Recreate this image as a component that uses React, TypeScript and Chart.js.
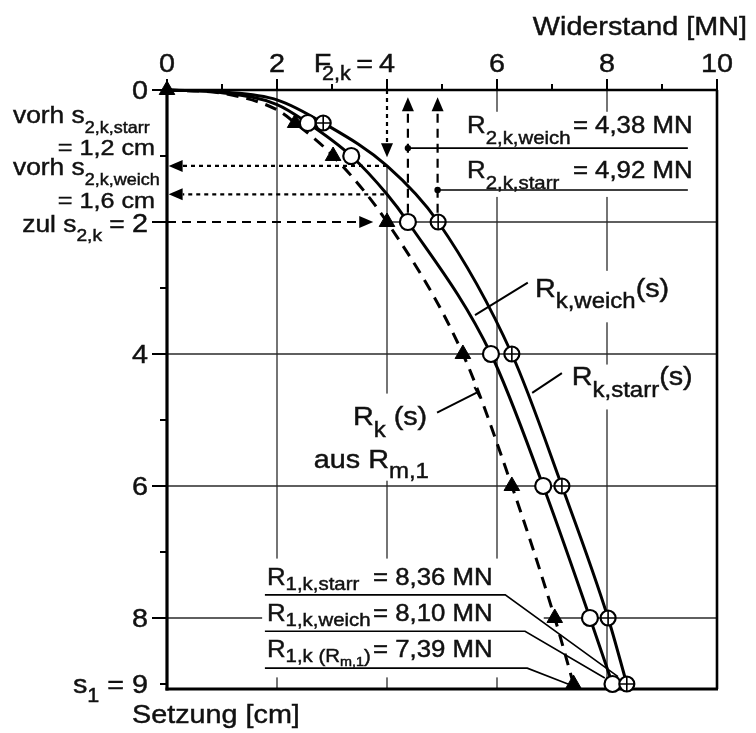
import React, { useEffect, useRef } from 'react';
import { Chart, registerables } from 'chart.js';

Chart.register(...registerables);

// ---------- data (Widerstand [MN] vs. Setzung [cm]) ----------
const starrCurveX = [0, 1, 2, 2.84, 4, 4.93, 6.27, 7.18, 8.02, 8.36];
const starrCurveY = [0, 0.03, 0.15, 0.5, 1.15, 2, 4, 6, 8, 9];
const weichCurveX = [0, 1, 2, 2.56, 3.35, 4, 4.38, 5.89, 6.84, 7.69, 8.1];
const weichCurveY = [0, 0.04, 0.22, 0.5, 1.0, 1.58, 2, 4, 6, 8, 9];
const rmCurveX = [0, 1, 2, 2.33, 3.02, 4.0, 5.38, 6.27, 7.05, 7.39];
const rmCurveY = [0, 0.05, 0.3, 0.5, 1.0, 2.0, 4, 6, 8, 9];

const starrMarkX = [2.84, 4.93, 6.27, 7.18, 8.02, 8.36];
const starrMarkY = [0.5, 2, 4, 6, 8, 9];
const weichMarkX = [2.56, 3.35, 4.38, 5.89, 6.84, 7.69, 8.1];
const weichMarkY = [0.5, 1, 2, 4, 6, 8, 9];
const rmMarkX = [0, 2.33, 3.02, 4.0, 5.38, 6.27, 7.05, 7.39];
const rmMarkY = [0, 0.5, 1, 2, 4, 6, 8, 9];

const xTickValues = [0, 2, 4, 6, 8, 10];
const xTickLabels = ['0', '2', '4', '6', '8', '10'];
const yTickValues = [0, 4, 6, 8];
const yTickLabels = ['0', '4', '6', '8'];
const gridX = [2, 4, 6, 8];
const gridY = [2, 4, 6, 8];

const F2k = 4;           // F_2,k
const zulS2k = 2;        // zul s_2,k
const s1 = 9;            // s_1
const r2Values = [4.38, 4.92];          // R_2,k weich / starr
const sVorhPos = [1.15, 1.58];          // vorh s_2,k starr / weich (drawn)
const r1Values = [8.36, 8.1, 7.39];     // R_1,k starr / weich / (R_m,1)

const X_MAX = 10;
const Y_MAX = 9.076;

// ---------- drawing helpers ----------
const FONT = '"Liberation Sans", Arial, Helvetica, sans-serif';
const SX = 1.11;
const FS = 1.08;
type Seg = [string, number, number];

function drawRich(ctx: CanvasRenderingContext2D, x: number, y: number, segs: Seg[], align = 'left') {
  let w = 0;
  for (const [t, s] of segs) {
    ctx.font = `${s * FS}px ${FONT}`;
    w += ctx.measureText(t).width * SX;
  }
  let cx = align === 'right' ? x - w : align === 'center' ? x - w / 2 : x;
  for (const [t, s, dy] of segs) {
    ctx.font = `${s * FS}px ${FONT}`;
    const tw = ctx.measureText(t).width;
    ctx.save();
    ctx.translate(cx, y + dy);
    ctx.scale(SX, 1);
    ctx.textAlign = 'left';
    ctx.textBaseline = 'alphabetic';
    ctx.lineWidth = 0.45;
    ctx.fillText(t, 0, 0);
    ctx.strokeText(t, 0, 0);
    ctx.restore();
    cx += tw * SX;
  }
}

function arrow(ctx: CanvasRenderingContext2D, x1: number, y1: number, x2: number, y2: number, dash: number[], lw: number, hl = 14, hw = 6) {
  const dx = x2 - x1, dy = y2 - y1, L = Math.hypot(dx, dy);
  const ux = dx / L, uy = dy / L;
  const bx = x2 - ux * hl, by = y2 - uy * hl;
  ctx.save();
  ctx.setLineDash(dash);
  ctx.lineWidth = lw;
  ctx.beginPath();
  ctx.moveTo(x1, y1);
  ctx.lineTo(bx, by);
  ctx.stroke();
  ctx.setLineDash([]);
  ctx.beginPath();
  ctx.moveTo(x2, y2);
  ctx.lineTo(bx - uy * hw, by + ux * hw);
  ctx.lineTo(bx + uy * hw, by - ux * hw);
  ctx.closePath();
  ctx.fill();
  ctx.restore();
}

function poly(ctx: CanvasRenderingContext2D, pts: number[][], lw: number) {
  ctx.save();
  ctx.lineWidth = lw;
  ctx.beginPath();
  pts.forEach(([x, y], i) => (i ? ctx.lineTo(x, y) : ctx.moveTo(x, y)));
  ctx.stroke();
  ctx.restore();
}

// white areas behind labels (data units: x0, y0, x1, y1)
const boxes = [
  [5.4, 0.33, 9.6, 1.62],
  [6.6, 2.74, 9.4, 3.52],
  [7.22, 4.16, 9.75, 4.84],
  [2.4, 4.6, 4.87, 5.92],
  [1.73, 7.1, 6.85, 8.9],
];

const annotPlugin = {
  id: 'annot',
  beforeDatasetsDraw(chart: any) {
    const ctx: CanvasRenderingContext2D = chart.ctx;
    const xs = chart.scales.x, ys = chart.scales.y;
    const px = (v: number) => xs.getPixelForValue(v);
    const py = (v: number) => ys.getPixelForValue(v);
    ctx.save();
    ctx.strokeStyle = '#2a2a2a';
    ctx.lineWidth = 1.3;
    // grid
    gridX.forEach((v) => {
      const from = v === F2k ? sVorhPos[0] : 0;
      ctx.beginPath();
      ctx.moveTo(px(v), py(from));
      ctx.lineTo(px(v), py(Y_MAX));
      ctx.stroke();
    });
    gridY.forEach((v) => {
      const from = v === zulS2k ? F2k : 0;
      ctx.beginPath();
      ctx.moveTo(px(from), py(v));
      ctx.lineTo(px(X_MAX), py(v));
      ctx.stroke();
    });
    // white boxes
    ctx.fillStyle = '#fff';
    boxes.forEach(([a, b, c, d]) => {
      ctx.fillRect(px(a), py(b), px(c) - px(a), py(d) - py(b));
    });
    // axes
    ctx.strokeStyle = '#000';
    const x0 = px(0), x1 = px(X_MAX), y0 = py(0), y1 = py(Y_MAX);
    ctx.lineWidth = 2.6;
    ctx.beginPath(); ctx.moveTo(x0 - 1, y0); ctx.lineTo(x1 + 1, y0); ctx.stroke();
    ctx.beginPath(); ctx.moveTo(x1, y0); ctx.lineTo(x1, y1); ctx.stroke();
    ctx.lineWidth = 3.2;
    ctx.beginPath(); ctx.moveTo(x0, y0 - 1); ctx.lineTo(x0, y1 + 1.5); ctx.stroke();
    ctx.beginPath(); ctx.moveTo(x0 - 1.5, y1); ctx.lineTo(x1 + 1, y1); ctx.stroke();
    // ticks
    ctx.lineWidth = 2;
    for (let v = 0; v <= 10; v++) {
      const len = v % 2 === 0 ? 11 : 6;
      ctx.beginPath(); ctx.moveTo(px(v), y0); ctx.lineTo(px(v), y0 - len); ctx.stroke();
    }
    for (let v = 0; v <= 9; v++) {
      const len = v % 2 === 0 && v < 9 ? 15 : 7;
      ctx.beginPath(); ctx.moveTo(x0, py(v)); ctx.lineTo(x0 - len, py(v)); ctx.stroke();
    }
    ctx.restore();
  },
  afterDatasetsDraw(chart: any) {
    const ctx: CanvasRenderingContext2D = chart.ctx;
    const xs = chart.scales.x, ys = chart.scales.y;
    const px = (v: number) => xs.getPixelForValue(v);
    const py = (v: number) => ys.getPixelForValue(v);
    ctx.save();
    ctx.strokeStyle = '#000';
    ctx.fillStyle = '#000';

    // arrows
    const dotted = [4, 4];
    const dashed = [9, 6];
    arrow(ctx, px(F2k), py(0), px(F2k), py(1.02), dotted, 2.2);
    arrow(ctx, px(F2k), py(sVorhPos[0]), px(0.03), py(sVorhPos[0]), dotted, 2.2);
    arrow(ctx, px(F2k - 0.05), py(sVorhPos[1]), px(0.03), py(sVorhPos[1]), dotted, 2.2);
    arrow(ctx, px(0), py(zulS2k), px(3.75), py(zulS2k), dashed, 2.2);
    r2Values.forEach((v) => arrow(ctx, px(v), py(1.86), px(v), py(0.11), dashed, 2.2));

    // R2 leaders with dots
    const r2LeaderY = [0.88, 1.515];
    r2Values.forEach((v, i) => {
      poly(ctx, [[px(v), py(r2LeaderY[i])], [px(9.47), py(r2LeaderY[i])]], 1.6);
      ctx.beginPath(); ctx.arc(px(v), py(r2LeaderY[i]), 3.2, 0, Math.PI * 2); ctx.fill();
    });

    // R1 leaders
    const r1Lead = [
      [[1.78, 7.65], [6.15, 7.65], [8.2, 8.89]],
      [[1.78, 8.2], [6.51, 8.2], [7.96, 8.91]],
      [[1.78, 8.76], [6.55, 8.76], [7.29, 9.0]],
    ];
    r1Lead.forEach((l) => poly(ctx, l.map(([a, b]) => [px(a), py(b)]), 1.6));

    // curve label leaders
    poly(ctx, [[px(5.6), py(3.41)], [px(6.56), py(2.92)]], 2);
    poly(ctx, [[px(6.64), py(4.59)], [px(7.18), py(4.29)]], 2);
    poly(ctx, [[px(4.91), py(4.89)], [px(5.64), py(4.58)]], 2);
    {
      const ex = px(5.64), ey = py(4.58);
      const dx = px(5.64) - px(4.91), dy = py(4.58) - py(4.89);
      const L = Math.hypot(dx, dy);
      const nx = -dy / L * 6, ny = dx / L * 6;
      poly(ctx, [[ex - nx, ey - ny], [ex + nx, ey + ny]], 2);
    }

    // texts
    ctx.fillStyle = '#111';
    ctx.strokeStyle = '#111';
    drawRich(ctx, px(10.545), py(-0.833), [['Widerstand [MN]', 24, 0]], 'right');
    xTickValues.forEach((v, i) => drawRich(ctx, px(v), py(-0.273), [[xTickLabels[i], 24, 0]], 'center'));
    drawRich(ctx, px(2.67), py(-0.273), [['F', 24, 0]]);
    drawRich(ctx, px(2.82), py(-0.15), [['2,k', 18, 0]]);
    drawRich(ctx, px(3.44), py(-0.273), [['=', 24, 0]]);

    yTickValues.forEach((v, i) => drawRich(ctx, px(-0.345), py(v + 0.14), [[yTickLabels[i], 24, 0]], 'right'));
    drawRich(ctx, px(-0.345), py(s1 + 0.13), [['s', 24, 0], ['1', 18, 9], [' = ' + s1, 24, 0]], 'right');
    drawRich(ctx, px(-0.345), py(zulS2k + 0.145), [['zul s', 22, 0], ['2,k', 16, 9], [' = ', 22, 0], [String(zulS2k), 24, 0]], 'right');

    drawRich(ctx, px(-2.8), py(0.5), [['vorh s', 22, 0], ['2,k,starr', 15, 10]]);
    drawRich(ctx, px(-0.218), py(0.985), [['= 1,2 cm', 21, 0]], 'right');
    drawRich(ctx, px(-2.8), py(1.288), [['vorh s', 22, 0], ['2,k,weich', 15, 10]]);
    drawRich(ctx, px(-0.218), py(1.788), [['= 1,6 cm', 21, 0]], 'right');

    const fmt = (v: number) => v.toFixed(2).replace('.', ',');
    drawRich(ctx, px(5.455), py(0.652), [['R', 21.5, 0], ['2,k,weich', 17, 11]]);
    drawRich(ctx, px(7.38), py(0.652), [['= ' + fmt(r2Values[0]) + ' MN', 21.5, 0]]);
    drawRich(ctx, px(5.455), py(1.333), [['R', 21.5, 0], ['2,k,starr', 17, 11]]);
    drawRich(ctx, px(7.38), py(1.333), [['= ' + fmt(r2Values[1]) + ' MN', 21.5, 0]]);

    drawRich(ctx, px(6.69), py(3.136), [['R', 24, 0], ['k,weich', 20, 11], ['(s)', 24, 0]]);
    drawRich(ctx, px(7.36), py(4.47), [['R', 24, 0], ['k,starr', 20, 12], ['(s)', 24, 0]]);
    drawRich(ctx, px(3.38), py(5.076), [['R', 24, 0], ['k', 20, 12], [' (s)', 24, 0]]);
    drawRich(ctx, px(2.67), py(5.727), [['aus R', 24, 0], ['m,1', 20, 10]]);

    drawRich(ctx, px(1.818), py(7.5), [['R', 21.5, 0], ['1,k,starr', 17, 5]]);
    drawRich(ctx, px(3.745), py(7.5), [['= ' + fmt(r1Values[0]) + ' MN', 21.5, 0]]);
    drawRich(ctx, px(1.818), py(8.045), [['R', 21.5, 0], ['1,k,weich', 17, 5]]);
    drawRich(ctx, px(3.745), py(8.045), [['= ' + fmt(r1Values[1]) + ' MN', 21.5, 0]]);
    drawRich(ctx, px(1.818), py(8.59), [['R', 21.5, 0], ['1,k (', 17, 5], ['R', 17, 5], ['m,1', 12, 9], [')', 17, 5]]);
    drawRich(ctx, px(3.745), py(8.59), [['= ' + fmt(r1Values[2]) + ' MN', 21.5, 0]]);

    drawRich(ctx, px(-0.636), py(9.59), [['Setzung [cm]', 24, 0]]);
    ctx.restore();
  },
};

const pts = (xs: number[], ys: number[]) => xs.map((x, i) => ({ x, y: ys[i] }));

export default function App() {
  const ref = useRef<HTMLCanvasElement>(null);
  useEffect(() => {
    const markerBase = { showLine: false, clip: false as any, borderColor: '#000' };
    const lineBase = {
      showLine: true, pointRadius: 0, borderColor: '#000', borderWidth: 3,
      cubicInterpolationMode: 'monotone' as const, fill: false, clip: false as any,
    };
    const chart = new Chart(ref.current!, {
      type: 'line',
      data: {
        datasets: [
          { ...markerBase, data: pts(starrMarkX, starrMarkY), pointStyle: 'cross', pointRadius: 7.5, pointBorderWidth: 1.6, pointBorderColor: '#000' },
          { ...markerBase, data: pts(starrMarkX, starrMarkY), pointStyle: 'circle', pointRadius: 7.5, pointBorderWidth: 2.2, pointBorderColor: '#000', pointBackgroundColor: '#fff' },
          { ...markerBase, data: pts(weichMarkX, weichMarkY), pointStyle: 'circle', pointRadius: 8, pointBorderWidth: 2.2, pointBorderColor: '#000', pointBackgroundColor: '#fff' },
          { ...markerBase, data: pts(rmMarkX, rmMarkY), pointStyle: 'triangle', pointRadius: 9, pointBorderWidth: 1, pointBorderColor: '#000', pointBackgroundColor: '#000' },
          { ...lineBase, data: pts(starrCurveX, starrCurveY) },
          { ...lineBase, data: pts(weichCurveX, weichCurveY) },
          { ...lineBase, data: pts(rmCurveX, rmCurveY), borderDash: [12, 8] },
        ] as any,
      },
      options: {
        animation: false,
        responsive: false,
        devicePixelRatio: 1,
        events: [],
        layout: { padding: { left: 159, top: 82, right: 31, bottom: 44 } },
        plugins: { legend: { display: false }, tooltip: { enabled: false } },
        scales: {
          x: { type: 'linear', min: 0, max: X_MAX, display: false },
          y: { type: 'linear', min: 0, max: Y_MAX, reverse: true, display: false },
        },
      },
      plugins: [annotPlugin],
    });
    return () => chart.destroy();
  }, []);
  return (
    <div style={{ width: 740, height: 725 }}>
      <canvas ref={ref} width={740} height={725} style={{ display: 'block' }} />
    </div>
  );
}
